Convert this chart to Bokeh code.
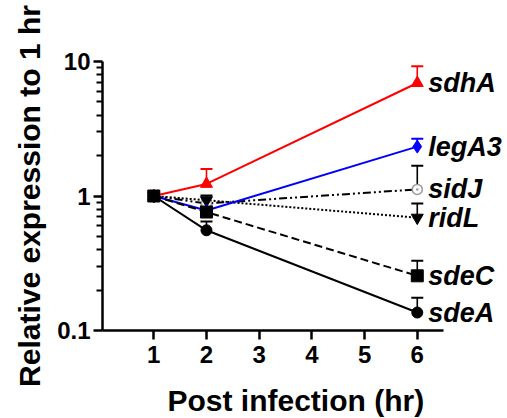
from bokeh.plotting import figure
from bokeh.models import Range1d, FixedTicker, CustomJSTickFormatter, Title
from bokeh.core.properties import value
from bokeh.embed import file_html
from bokeh.resources import INLINE

hours = [1, 2, 6]
genes = ["sdhA", "legA3", "sidJ", "ridL", "sdeC", "sdeA"]
sdhA = [1.0, 1.23, 6.92]
sdhA_err = [1.0, 1.59, 9.23]
legA3 = [1.0, 0.78, 2.33]
legA3_err = [1.0, 0.78, 2.66]
sidJ = [1.0, 0.88, 1.12]
sidJ_err = [1.0, 0.88, 1.68]
ridL = [1.0, 0.93, 0.69]
ridL_err = [1.0, 1.01, 0.88]
sdeC = [1.0, 0.76, 0.255]
sdeC_err = [1.0, 0.84, 0.33]
sdeA = [1.0, 0.556, 0.136]
sdeA_err = [1.0, 0.645, 0.175]
x_ticks = [1, 2, 3, 4, 5, 6]
y_ticks = [0.1, 1, 10]
y_minor = [0.2, 0.3, 0.4, 0.5, 0.6, 0.7, 0.8, 0.9, 2, 3, 4, 5, 6, 7, 8, 9]

W, H = 507, 418
p = figure(width=W, height=H, output_backend="svg", toolbar_location=None,
           y_axis_type="log",
           x_range=Range1d(0.027, 7.712), y_range=Range1d(0.1, 10),
           min_border_left=102, min_border_top=61, min_border_bottom=86,
           min_border_right=0)
p.outline_line_color = None
p.grid.visible = False
p.background_fill_color = "white"
p.border_fill_color = "white"

FONT = "Liberation Sans"

# series: (values, err, line color, dash, marker, size, fill, marker line, err color)
series = [
    (sidJ, sidJ_err, "black", "8 3 2 3 2 3", "circle_dot", 10, "white", "#999999", "black"),
    (ridL, ridL_err, "black", "2 2", "inverted_triangle", 12, "black", "black", "black"),
    (legA3, legA3_err, "blue", "solid", "diamond", 13, "blue", "blue", "blue"),
    (sdhA, sdhA_err, "red", "solid", "triangle", 12, "red", "red", "red"),
    (sdeA, sdeA_err, "black", "solid", "circle", 11, "black", "black", "black"),
    (sdeC, sdeC_err, "black", "8 4", "square", 12, "black", "black", "black"),
]

for vals, errs, col, dash, mk, sz, fill, mline, ecol in series:
    p.segment(x0=hours, y0=vals, x1=hours, y1=errs, line_color=ecol, line_width=1.6)
    p.scatter(x=hours[1:], y=errs[1:], marker="dash", size=12, line_color=ecol, line_width=2)

for vals, errs, col, dash, mk, sz, fill, mline, ecol in series:
    p.line(x=hours, y=vals, line_color=col, line_width=2, line_dash=dash)

for vals, errs, col, dash, mk, sz, fill, mline, ecol in series:
    p.scatter(x=hours, y=vals, marker=mk, size=sz, fill_color=fill,
              line_color=mline, line_width=1.5 if mk == "circle_dot" else 1)

label_y = [sdhA[-1], legA3[-1], sidJ[-1], ridL[-1], sdeC[-1], sdeA[-1]]
p.text(x=[6.21] * len(genes), y=label_y, text=genes,
       text_font=value(FONT), text_font_style="bold italic", text_font_size="27px",
       text_baseline="middle", text_align="left", text_color="black")

# axes
for ax in (p.xaxis[0], p.yaxis[0]):
    ax.axis_line_width = 2.5
    ax.axis_line_color = "black"
    ax.major_tick_line_width = 2.5
    ax.minor_tick_line_width = 2
    ax.major_tick_in = 0
    ax.major_tick_out = 9
    ax.major_label_text_font = FONT
    ax.major_label_text_font_style = "bold"
    ax.major_label_text_font_size = "24px"
    ax.major_label_text_color = "black"
    ax.axis_label_text_font = FONT
    ax.axis_label_text_font_style = "bold"
    ax.axis_label_text_font_size = "30px"
    ax.axis_label_text_color = "black"

xa = p.xaxis[0]
xa.ticker = FixedTicker(ticks=x_ticks)
xa.minor_tick_line_color = None
xa.bounds = (0.027, 6.5)
xa.major_label_standoff = 6
# invisible spacer label to push the title lower
xa.axis_label = " "
xa.axis_label_text_font_size = "1px"
xa.axis_label_standoff = 10

ya = p.yaxis[0]
ya.ticker = FixedTicker(ticks=y_ticks, minor_ticks=y_minor)
ya.formatter = CustomJSTickFormatter(code="return tick.toString()")
ya.minor_tick_in = 0
ya.minor_tick_out = 6
ya.major_label_standoff = 3
ya.axis_label = "Relative expression to 1 hr"
ya.axis_label_standoff = 8

xtitle = Title(text="Post infection (hr)", align="left", offset=65, standoff=4,
               text_font=FONT, text_font_style="bold", text_font_size="30px",
               text_color="black")
p.add_layout(xtitle, "below")

open("out.html", "w").write(file_html(p, INLINE))
